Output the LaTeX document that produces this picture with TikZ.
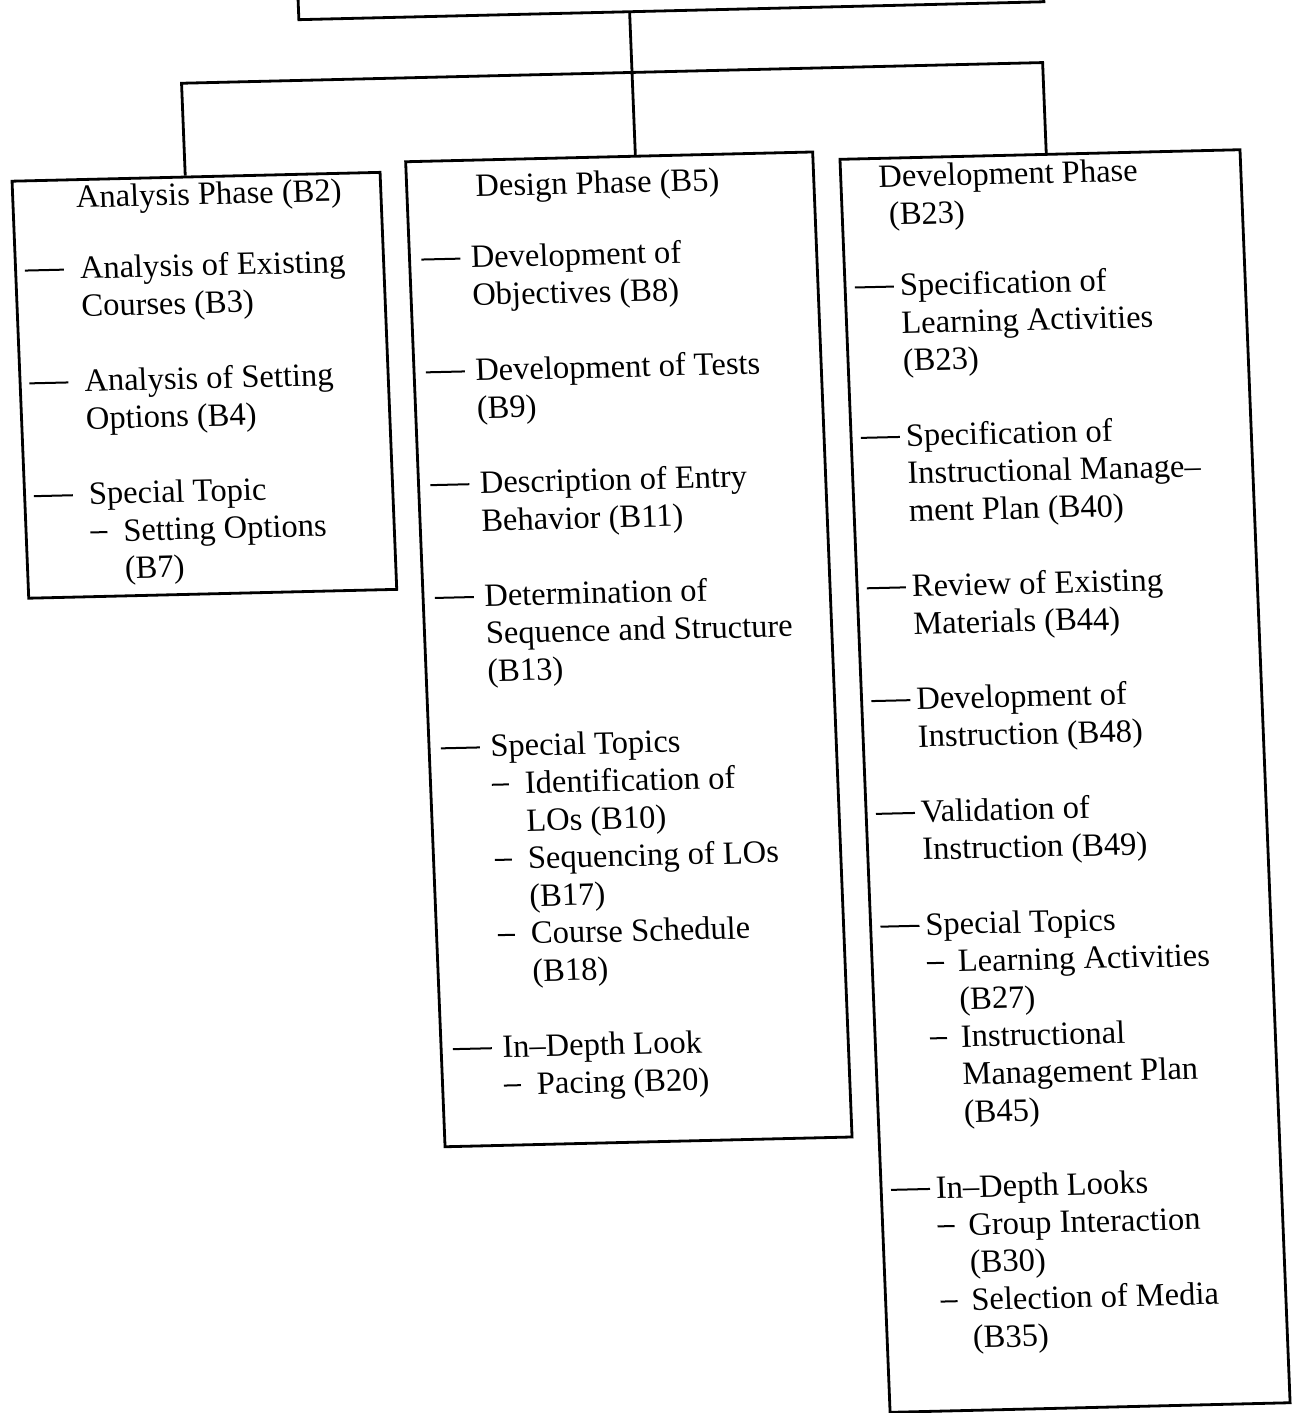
\documentclass[tikz,border=0pt]{standalone}
\usepackage{fontspec}
\setmainfont{Liberation Serif}
\newcommand\itemdash{\rule[8.5pt]{39pt}{2pt}}
\newcommand\subdash{\rule[8.5pt]{17pt}{2pt}}
\newcommand\fullrow[1]{\multicolumn{3}{@{}l@{}}{#1}}
\newcommand\restrow[1]{\multicolumn{2}{@{}l@{}}{#1}}
\newcommand\titlerow[2]{\multicolumn{3}{@{}l@{}}{\hspace*{#1}\raisebox{-4pt}{#2}}}
\begin{document}
\begin{tikzpicture}[x=1pt,y=-1pt,
  frame/.style={draw=black,line width=2.8pt,rectangle,inner sep=0pt,anchor=north west,transform shape},
  link/.style={draw=black,line width=2.8pt},
  col/.style={inner sep=0pt,anchor=base west,font=\fontsize{32.5}{37.6}\selectfont,transform shape}]
\useasboundingbox (0,0) rectangle (1299,1413);
\clip (0,0) rectangle (1299,1413);
\begin{scope}[cm={1,0.024,-0.04,1,(-28pt,-15.6pt)}]
  % boxes
  \node[frame,minimum width=745pt,minimum height=90.5pt] (top) at (325,-80) {};
  \node[frame,minimum width=368pt,minimum height=417pt] (ana) at (32,165) {};
  \node[frame,minimum width=407pt,minimum height=985pt] (des) at (426,155) {};
  \node[frame,minimum width=400pt,minimum height=1253pt] (dev) at (860,163) {};
  % junctions
  \coordinate (jl) at (206.6,72.6);
  \coordinate (jm) at (657,72.6);
  \coordinate (jr) at (1067.5,72.6);
  \draw[link] (jl |- ana.north) -- (jl) -- (jr) -- (jr |- dev.north);
  \draw[link] (jm |- top.south) -- (jm |- des.north);
  % texts
  \node[col] (anatxt) at (42.5,190.3) {\begin{tabular}[t]{@{}p{55pt}@{}p{33pt}@{}l@{}}
\titlerow{54pt}{Analysis Phase (B2)}\\
\\
\itemdash & \restrow{Analysis of Existing}\\
 & \restrow{Courses (B3)}\\
\\
\itemdash & \restrow{Analysis of Setting}\\
 & \restrow{Options (B4)}\\
\\
\itemdash & \restrow{Special Topic}\\
 & \subdash & Setting Options\\
 & & (B7)
\end{tabular}};
  \node[col] (destxt) at (439,188.8) {\begin{tabular}[t]{@{}p{49.5pt}@{}p{33pt}@{}l@{}}
\titlerow{57pt}{Design Phase (B5)}\\
\\
\itemdash & \restrow{Development of}\\
 & \restrow{Objectives (B8)}\\
\\
\itemdash & \restrow{Development of Tests}\\
 & \restrow{(B9)}\\
\\
\itemdash & \restrow{Description of Entry}\\
 & \restrow{Behavior (B11)}\\
\\
\itemdash & \restrow{Determination of}\\
 & \restrow{Sequence and Structure}\\
 & \restrow{(B13)}\\
\\
\itemdash & \restrow{Special Topics}\\
 & \subdash & Identification of\\
 & & LOs (B10)\\
 & \subdash & Sequencing of LOs\\
 & & (B17)\\
 & \subdash & Course Schedule\\
 & & (B18)\\
\\
\itemdash & \restrow{In–Depth Look}\\
 & \subdash & Pacing (B20)
\end{tabular}};
  \node[col] (devtxt) at (871,189.5) {\begin{tabular}[t]{@{}p{45pt}@{}p{31pt}@{}l@{}}
\titlerow{28pt}{Development Phase}\\
\titlerow{37pt}{(B23)}\\
\\
\itemdash & \restrow{Specification of}\\
 & \restrow{Learning Activities}\\
 & \restrow{(B23)}\\
\\
\itemdash & \restrow{Specification of}\\
 & \restrow{Instructional Manage–}\\
 & \restrow{ment Plan (B40)}\\
\\
\itemdash & \restrow{Review of Existing}\\
 & \restrow{Materials (B44)}\\
\\
\itemdash & \restrow{Development of}\\
 & \restrow{Instruction (B48)}\\
\\
\itemdash & \restrow{Validation of}\\
 & \restrow{Instruction (B49)}\\
\\
\itemdash & \restrow{Special Topics}\\
 & \subdash & Learning Activities\\
 & & (B27)\\
 & \subdash & Instructional\\
 & & Management Plan\\
 & & (B45)\\
\\
\itemdash & \restrow{In–Depth Looks}\\
 & \subdash & Group Interaction\\
 & & (B30)\\
 & \subdash & Selection of Media\\
 & & (B35)
\end{tabular}};
\end{scope}
\end{tikzpicture}
\end{document}
